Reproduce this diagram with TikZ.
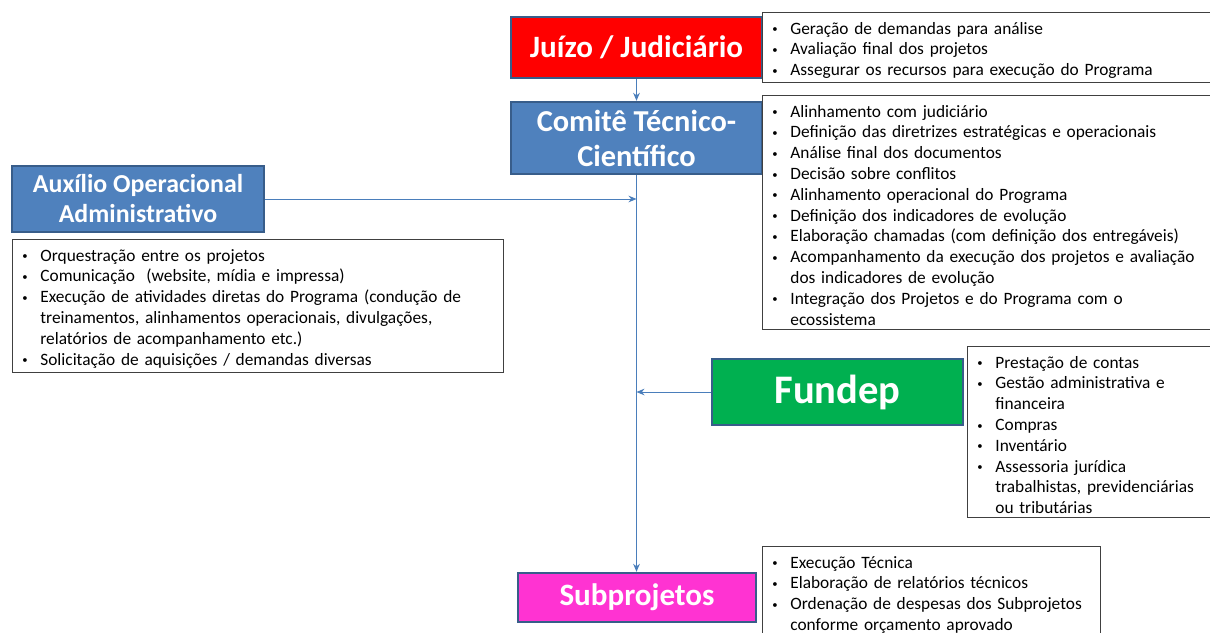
\documentclass[tikz,border=0pt]{standalone}
\usepackage{fontspec}
\setmainfont{Carlito}
\usetikzlibrary{arrows.meta}
\definecolor{juizored}{RGB}{255,0,0}
\definecolor{comiteblue}{RGB}{79,129,189}
\definecolor{boxedge}{RGB}{56,93,138}
\definecolor{fundepgreen}{RGB}{0,176,80}
\definecolor{subpink}{RGB}{255,51,210}
\definecolor{linkblue}{RGB}{74,126,187}
\newcommand{\bitem}[1]{\hangindent=13.5pt\hangafter=1\noindent\hbox to 13.5pt{\raisebox{0.15ex}{\footnotesize\textbullet}\hfil}#1\par}
\newcommand{\topgap}{\rule{0pt}{13.2pt}}

\begin{document}
\begin{tikzpicture}[x=0.75pt, y=-0.75pt, >={Stealth[length=6pt,width=5pt]},
  role/.style={draw=boxedge, line width=1.8pt, text=white, align=center, inner sep=0pt},
  tasks/.style={draw=black!75, line width=0.6pt, anchor=north west, align=left, inner xsep=7.5pt, inner ysep=3pt,
    font=\fontsize{13pt}{15.6pt}\selectfont},
  link/.style={draw=linkblue, line width=0.75pt}]
\useasboundingbox (0,0) rectangle (1210,632);

\node[role, fill=juizored, minimum width=188.25pt, minimum height=45.75pt,
  font=\bfseries\fontsize{23.3pt}{26pt}\selectfont] (judiciario) at (636.5,47.5) {Juízo / Judiciário};
\node[role, fill=comiteblue, minimum width=188.25pt, minimum height=54pt,
  font=\bfseries\fontsize{22.8pt}{26.25pt}\selectfont] (comite) at (636.5,138) {Comitê Técnico-\\Científico};
\node[role, fill=comiteblue, minimum width=189pt, minimum height=49.5pt,
  font=\bfseries\fontsize{19.4pt}{22.5pt}\selectfont] (auxilio) at (138,199) {Auxílio Operacional\\Administrativo};
\node[role, fill=fundepgreen, minimum width=188.25pt, minimum height=49.5pt,
  font=\bfseries\fontsize{30.4pt}{34pt}\selectfont] (fundep) at (837.5,392) {Fundep};
\node[role, fill=subpink, minimum width=178.5pt, minimum height=36.75pt,
  font=\bfseries\fontsize{23.3pt}{26pt}\selectfont] (subprojetos) at (637,597.5) {Subprojetos};

\node[tasks, text width=330pt] (judiciariotasks) at (762,12) {%
  \bitem{\topgap Geração de demandas para análise}
  \bitem{Avaliação final dos projetos}
  \bitem{Assegurar os recursos para execução do Programa}};
\node[tasks, text width=330pt] (comitetasks) at (762,95) {%
  \bitem{\topgap Alinhamento com judiciário}
  \bitem{Definição das diretrizes estratégicas e operacionais}
  \bitem{Análise final dos documentos}
  \bitem{Decisão sobre conflitos}
  \bitem{Alinhamento operacional do Programa}
  \bitem{Definição dos indicadores de evolução}
  \bitem{Elaboração chamadas (com definição dos entregáveis)}
  \bitem{Acompanhamento da execução dos projetos e avaliação\newline dos indicadores de evolução}
  \bitem{Integração dos Projetos e do Programa com o\newline ecossistema}};
\node[tasks, text width=353.25pt] (auxiliotasks) at (12,239) {%
  \bitem{\topgap Orquestração entre os projetos}
  \bitem{Comunicação \ (website, mídia e impressa)}
  \bitem{Execução de atividades diretas do Programa (condução de\newline treinamentos, alinhamentos operacionais, divulgações,\newline relatórios de acompanhamento etc.)}
  \bitem{Solicitação de aquisições / demandas diversas}};
\node[tasks, text width=175pt] (fundeptasks) at (967,346) {%
  \bitem{\topgap Prestação de contas}
  \bitem{Gestão administrativa e\newline financeira}
  \bitem{Compras}
  \bitem{Inventário}
  \bitem{Assessoria jurídica\newline trabalhistas, previdenciárias\newline ou tributárias}};
\node[tasks, text width=238.5pt] (subprojetostasks) at (762,546) {%
  \bitem{\topgap Execução Técnica}
  \bitem{Elaboração de relatórios técnicos}
  \bitem{Ordenação de despesas dos Subprojetos\newline conforme orçamento aprovado}};

\draw[link,->] (judiciario) -- (comite);
\draw[link,->] (comite.south) -- (comite.south |- subprojetos.north);
\draw[link,->] (auxilio.east) -- (auxilio.east -| comite.south);
\draw[link,->] (fundep.west) -- (fundep.west -| comite.south);
\end{tikzpicture}
\end{document}
